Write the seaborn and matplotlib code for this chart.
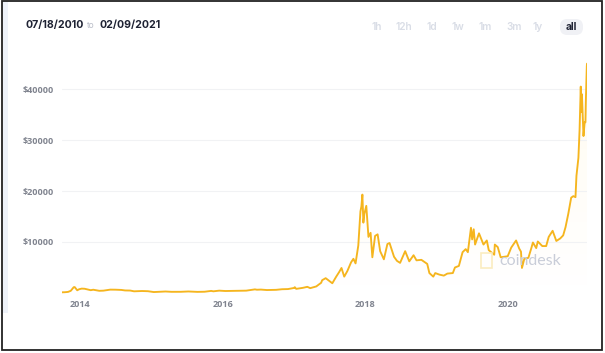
import numpy as np
import pandas as pd
import matplotlib
matplotlib.use("Agg")
import matplotlib.pyplot as plt
import matplotlib.dates as mdates
from matplotlib.patches import Rectangle, FancyBboxPatch
import seaborn as sns

# ---- data ----
dates = [
    "2013-10-01", "2013-10-15", "2013-11-01", "2013-11-15", "2013-11-30", "2013-12-05",
    "2013-12-18", "2013-12-28", "2014-01-10", "2014-01-25", "2014-02-10", "2014-02-25",
    "2014-03-10", "2014-04-10", "2014-05-01", "2014-05-25", "2014-06-05", "2014-07-01",
    "2014-08-01", "2014-08-20", "2014-09-15", "2014-10-05", "2014-11-15", "2014-12-15",
    "2015-01-14", "2015-02-15", "2015-03-15", "2015-04-15", "2015-06-01", "2015-07-10",
    "2015-08-25", "2015-10-01", "2015-11-04", "2015-11-15", "2015-12-15", "2016-01-15",
    "2016-02-15", "2016-03-15", "2016-05-01", "2016-06-15", "2016-06-25", "2016-07-15",
    "2016-08-15", "2016-10-01", "2016-11-01", "2016-12-01", "2016-12-31", "2017-01-05",
    "2017-01-12", "2017-02-15", "2017-03-10", "2017-03-25", "2017-04-25", "2017-05-20",
    "2017-05-25", "2017-06-12", "2017-07-16", "2017-08-05", "2017-08-20", "2017-09-01",
    "2017-09-15", "2017-10-01", "2017-10-20", "2017-11-01", "2017-11-12", "2017-11-26",
    "2017-12-07", "2017-12-12", "2017-12-17", "2017-12-22", "2017-12-27", "2018-01-06",
    "2018-01-17", "2018-01-28", "2018-02-06", "2018-02-20", "2018-03-05", "2018-03-18",
    "2018-04-06", "2018-04-24", "2018-05-05", "2018-05-28", "2018-06-12", "2018-06-28",
    "2018-07-24", "2018-08-14", "2018-09-05", "2018-09-20", "2018-10-15", "2018-11-14",
    "2018-11-25", "2018-12-15", "2018-12-25", "2019-01-15", "2019-02-07", "2019-02-25",
    "2019-03-25", "2019-04-05", "2019-04-25", "2019-05-14", "2019-05-30", "2019-06-10",
    "2019-06-26", "2019-07-02", "2019-07-10", "2019-07-17", "2019-08-06", "2019-08-29",
    "2019-09-15", "2019-09-25", "2019-10-23", "2019-10-26", "2019-11-10", "2019-11-25",
    "2019-12-15", "2019-12-31", "2020-01-18", "2020-02-12", "2020-02-28", "2020-03-08",
    "2020-03-13", "2020-03-25", "2020-04-15", "2020-04-30", "2020-05-08", "2020-05-25",
    "2020-06-02", "2020-06-25", "2020-07-15", "2020-07-28", "2020-08-17", "2020-09-05",
    "2020-09-25", "2020-10-10", "2020-10-22", "2020-11-05", "2020-11-20", "2020-12-01",
    "2020-12-12", "2020-12-17", "2020-12-27", "2021-01-02", "2021-01-08", "2021-01-11",
    "2021-01-14", "2021-01-22", "2021-01-28", "2021-02-01", "2021-02-03", "2021-02-08",
    "2021-02-09",
]
prices = [
    125, 140, 205, 420, 1130, 1150,
    520, 730, 850, 820, 680, 540,
    630, 420, 450, 580, 650, 640,
    590, 490, 470, 320, 380, 340,
    175, 235, 285, 220, 225, 290,
    210, 238, 400, 320, 450, 380,
    405, 415, 450, 700, 630, 660,
    570, 610, 730, 760, 970, 1130,
    800, 1000, 1200, 940, 1280, 2000,
    2500, 2900, 1900, 3200, 4100, 4900,
    3200, 4300, 6000, 6700, 5800, 9300,
    16000, 17000, 19300, 13800, 15500, 17100,
    11000, 11800, 7000, 11200, 11500, 8200,
    6600, 9600, 9800, 7100, 6300, 5900,
    8200, 6200, 7400, 6400, 6500, 5700,
    3900, 3200, 3900, 3600, 3400, 3800,
    3900, 5000, 5300, 8000, 8600, 8000,
    12800, 10500, 12500, 9500, 11700, 9500,
    10300, 8400, 7500, 9500, 9000, 7000,
    7100, 7200, 8900, 10300, 8700, 8100,
    4900, 6700, 6900, 8800, 9900, 8800,
    10100, 9200, 9200, 11000, 12200, 10200,
    10700, 11300, 12900, 15500, 18700, 19000,
    18800, 23000, 26500, 32000, 40500, 35500,
    39000, 30800, 33500, 33500, 37500, 44500,
    45000,
]
ytick_values = [10000, 20000, 30000, 40000]
xtick_years = ["2014", "2016", "2018", "2020"]
range_start = "07/18/2010"
range_end = "02/09/2021"
range_buttons = ["1h", "12h", "1d", "1w", "1m", "3m", "1y", "all"]

df = pd.DataFrame({"date": pd.to_datetime(dates), "price": prices})

# ---- figure ----
W, H = 605, 353
sns.set_theme(style="white")
plt.rcParams["font.family"] = ["Open Sans", "DejaVu Sans"]
fig = plt.figure(figsize=(W / 100, H / 100), dpi=100)
fig.patch.set_facecolor("white")

def fx(px):
    return px / W

def fy(py):
    return 1 - py / H

ax = fig.add_axes([fx(62), fy(296), fx(587) - fx(62), fy(55) - fy(296)])
ax.set_facecolor("none")

line_color = "#f5b51e"
sns.lineplot(data=df, x="date", y="price", ax=ax, color=line_color, linewidth=1.35)

x0, x1 = pd.Timestamp("2013-10-01"), pd.Timestamp("2021-02-09")
y0, y1 = -600, 46700

# gradient fill under curve
xnum = mdates.date2num(df["date"])
poly = ax.fill_between(xnum, df["price"], y0, color="none", linewidth=0)
grad = np.linspace(0.09, 0.0, 256).reshape(-1, 1)
rgba = np.zeros((256, 1, 4))
rgba[..., 0] = 1.0
rgba[..., 1] = 0.85
rgba[..., 2] = 0.35
rgba[..., 3] = grad
im = ax.imshow(rgba, aspect="auto",
               extent=[xnum.min(), xnum.max(), y0, y1],
               origin="upper", zorder=0.5)
im.set_clip_path(poly.get_paths()[0], transform=ax.transData)
ax.set_xlim(x0, x1)
ax.set_ylim(y0, y1)

ax.set_yticks(ytick_values)
ax.set_yticklabels([f"${v}" for v in ytick_values])
ax.set_xticks([pd.Timestamp(f"{y}-01-01") for y in xtick_years])
ax.set_xticklabels(xtick_years)
ax.tick_params(axis="both", length=0, labelsize=6.5, labelcolor="#80848f")
ax.tick_params(axis="y", pad=6)
ax.tick_params(axis="x", pad=3)
for lab in ax.get_xticklabels() + ax.get_yticklabels():
    lab.set_fontweight("bold")
ax.grid(axis="y", color="#f1f2f4", linewidth=0.8)
ax.grid(axis="x", visible=False)
for s in ax.spines.values():
    s.set_visible(False)
ax.set_xlabel("")
ax.set_ylabel("")

# watermark
fig.text(fx(499), fy(261), "coindesk", fontsize=11.5, color="#c9cdd8",
         family=["Lato", "DejaVu Sans"], va="center", ha="left")
fig.patches.append(Rectangle((fx(481), fy(268)), fx(11), fy(253) - fy(268),
                             transform=fig.transFigure, facecolor="none",
                             edgecolor="#fbecc0", linewidth=1.2))

# header
hdr_font = ["Inter", "DejaVu Sans"]
fig.text(fx(25), fy(25), range_start, fontsize=7.6, fontweight="bold",
         color="#1e2233", family=hdr_font, va="center", ha="left")
fig.text(fx(87), fy(25.5), "to", fontsize=6, color="#b9bdc8",
         family=hdr_font, va="center", ha="left")
fig.text(fx(100), fy(25), range_end, fontsize=7.6, fontweight="bold",
         color="#1e2233", family=hdr_font, va="center", ha="left")

btn_x = [377, 404, 432, 458, 485, 514, 538, 571]
pill = FancyBboxPatch((fx(560), fy(35)), fx(23), fy(19) - fy(35),
                      boxstyle="round,pad=0,rounding_size=0.012",
                      transform=fig.transFigure, facecolor="#f0f1f5",
                      edgecolor="none", mutation_aspect=W / H)
fig.patches.append(pill)
for lbl, bx in zip(range_buttons, btn_x):
    if lbl == "all":
        fig.text(fx(bx), fy(27), lbl, fontsize=7.3, fontweight="bold",
                 color="#1e2233", family=hdr_font, va="center", ha="center")
    else:
        fig.text(fx(bx), fy(27), lbl, fontsize=7.3, fontweight="semibold",
                 color="#d9dde6", family=hdr_font, va="center", ha="center")

# left strip and frame
fig.patches.append(Rectangle((fx(3), fy(313)), fx(5), fy(1) - fy(313),
                             transform=fig.transFigure, facecolor="#eef2f9",
                             edgecolor="none"))
fig.patches.append(Rectangle((fx(2), fy(350)), fx(600), fy(1) - fy(350),
                             transform=fig.transFigure, facecolor="none",
                             edgecolor="#222222", linewidth=1.3))

fig.savefig("out.png", dpi=100, facecolor="white")
